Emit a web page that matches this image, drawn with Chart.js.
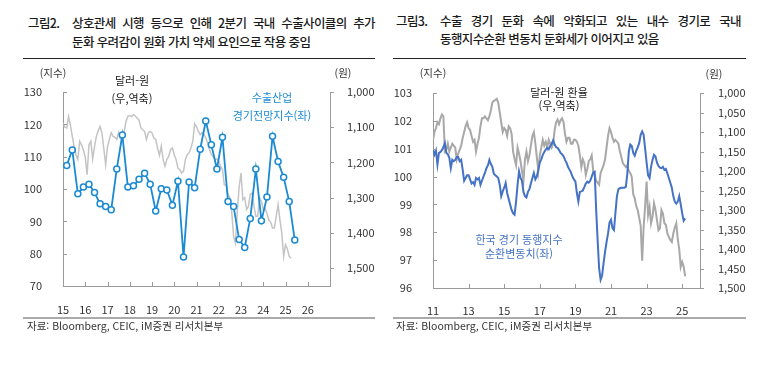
<!DOCTYPE html>
<html lang="ko">
<head>
<meta charset="utf-8">
<script src="https://cdn.jsdelivr.net/npm/chart.js@4.4.1/dist/chart.umd.min.js"></script>
<style>
  body { margin:0; width:782px; height:367px; background:#fff; position:relative; overflow:hidden;
         font-family:"Noto Sans CJK KR", sans-serif; color:#222; }
  .abs { position:absolute; white-space:nowrap; line-height:1; }
  canvas { position:absolute; top:0; }
  .title { font-size:12.5px; font-weight:500; letter-spacing:-0.6px; color:#1a1a1a; }
  .just { text-align:justify; text-align-last:justify; }
  .rule { position:absolute; height:0; border-top:1px solid #222; }
  .sep { position:absolute; height:0; border-top:2px solid #aaa; }
  .note { font-size:11px; transform:translate(-50%,-50%); }
  .unit { font-size:10.5px; color:#333; transform:translate(-50%,-50%); }
  .src { font-size:10.5px; color:#333; }
</style>
</head>
<body>

<!-- titles -->
<div class="abs title" style="left:28px;top:17px;">그림2.</div>
<div class="abs title just" style="left:72px;top:17px;width:303px;">상호관세 시행 등으로 인해 2분기 국내 수출사이클의 추가</div>
<div class="abs title" style="left:72px;top:36px;">둔화 우려감이 원화 가치 약세 요인으로 작용 중임</div>
<div class="rule" style="left:23px;top:58px;width:352px;"></div>

<div class="abs title" style="left:396px;top:15px;">그림3.</div>
<div class="abs title just" style="left:440px;top:15px;width:301px;">수출 경기 둔화 속에 악화되고 있는 내수 경기로 국내</div>
<div class="abs title" style="left:440px;top:33px;">동행지수순환 변동치 둔화세가 이어지고 있음</div>
<div class="rule" style="left:393px;top:58px;width:353px;"></div>

<canvas id="chart1" width="391" height="320" style="left:0;"></canvas>
<canvas id="chart2" width="391" height="320" style="left:391px;"></canvas>

<!-- chart 1 notes -->
<div class="abs unit" style="left:53px;top:73px;">(지수)</div>
<div class="abs unit" style="left:343px;top:73px;">(원)</div>
<div class="abs note" style="left:132px;top:80px;">달러-원</div>
<div class="abs note" style="left:132px;top:98px;">(우,역축)</div>
<div class="abs note" style="left:272px;top:97px;color:#1a8ad2;">수출산업</div>
<div class="abs note" style="left:272px;top:115px;color:#1a8ad2;">경기전망지수(좌)</div>

<!-- chart 2 notes -->
<div class="abs unit" style="left:433px;top:73px;">(지수)</div>
<div class="abs unit" style="left:714px;top:74px;">(원)</div>
<div class="abs note" style="left:559px;top:92px;">달러-원 환율</div>
<div class="abs note" style="left:559px;top:105px;">(우,역축)</div>
<div class="abs note" style="left:519px;top:239px;color:#4472c4;">한국 경기 동행지수</div>
<div class="abs note" style="left:519px;top:253px;color:#4472c4;">순환변동치(좌)</div>

<!-- sources -->
<div class="sep" style="left:23px;top:317px;width:352px;"></div>
<div class="abs src" style="left:27px;top:321px;">자료: Bloomberg, CEIC, iM증권 리서치본부</div>
<div class="sep" style="left:393px;top:317px;width:353px;"></div>
<div class="abs src" style="left:396px;top:321px;">자료: Bloomberg, CEIC, iM증권 리서치본부</div>

<script>
// ---- chart 1: export industry outlook (quarterly, from 2015 Mar) vs USD/KRW (monthly, from 2015 Jan)
const xLabels1 = ['15','16','17','18','19','20','21','22','23','24','25','26'];
const yTicks1 = [70, 80, 90, 100, 110, 120, 130];
const fxTicks1 = [1000, 1100, 1200, 1300, 1400, 1500];

const exportOutlook = [107.3, 112.1, 98.5, 100.6, 101.5, 98.9, 95.4, 94.6,
  93.6, 106.2, 116.7, 100.6, 101.0, 103.0, 104.9, 101.5,
  93.2, 100.1, 99.7, 95.0, 102.4, 79.0, 102.2, 100.4,
  112.3, 121.0, 113.7, 106.2, 116.0, 96.1, 94.6, 84.4,
  81.9, 90.9, 106.2, 90.2, 97.5, 116.3, 108.5, 103.6,
  96.1, 84.2];

const usdKrw1 = [
  1088, 1100, 1102, 1070, 1095, 1125, 1155, 1178, 1192, 1140, 1150, 1165,
  1185, 1235, 1150, 1140, 1190, 1155, 1126, 1110, 1098, 1116, 1160, 1206,
  1155, 1135, 1116, 1126, 1128, 1135, 1115, 1131, 1126, 1112, 1083, 1069,
  1067, 1070, 1064, 1068, 1074, 1080, 1102, 1107, 1112, 1135, 1116, 1112,
  1116, 1131, 1135, 1159, 1180, 1154, 1192, 1211, 1192, 1183, 1164, 1159,
  1178, 1192, 1216, 1221, 1230, 1225, 1192, 1178, 1173, 1159, 1140, 1090,
  1098, 1112, 1121, 1115, 1120, 1130, 1145, 1164, 1178, 1183, 1192, 1190,
  1197, 1211, 1220, 1263, 1265, 1290, 1300, 1340, 1410, 1429, 1339, 1270,
  1230, 1306, 1300, 1334, 1325, 1290, 1287, 1325, 1353, 1353, 1300, 1310,
  1334, 1330, 1345, 1363, 1370, 1386, 1386, 1353, 1320, 1363, 1400, 1467,
  1434, 1445, 1467, 1472];

// ---- chart 2: coincident index cycle (monthly, from 2011 Jan) vs USD/KRW
const xLabels2 = ['11','13','15','17','19','21','23','25'];
const yTicks2 = [96, 97, 98, 99, 100, 101, 102, 103];
const fxTicks2 = [1000, 1050, 1100, 1150, 1200, 1250, 1300, 1350, 1400, 1450, 1500];

const coincidentCycle = [
  100.97, 100.79, 100.94, 100.43, 100.85, 100.88, 100.95, 101.05, 101.2, 100.85, 100.8, 100.68,
  100.3, 100.6, 100.55, 100.6, 100.7, 100.7, 100.55, 100.6, 100.25, 99.85, 99.95, 100.05,
  100.05, 99.9, 99.75, 99.8, 99.7, 99.95, 99.9, 99.95, 99.7, 99.85, 100.0, 100.13,
  100.3, 100.4, 100.6, 100.45, 100.35, 100.1, 100.05, 100.0, 99.95, 99.7, 99.3, 99.47,
  99.6, 99.77, 99.41, 99.2, 99.0, 98.8, 98.68, 98.63, 99.1, 99.7, 100.19, 99.95,
  99.85, 99.45, 99.3, 99.25, 99.45, 99.55, 99.75, 99.95, 100.13, 99.9, 100.0, 100.25,
  100.5, 100.62, 100.78, 100.88, 100.97, 101.03, 100.98, 101.09, 101.18, 101.3, 101.15, 101.05,
  101.03, 100.95, 100.85, 100.8, 100.73, 100.6, 100.5, 100.35, 100.25, 100.15, 100.0, 99.9,
  99.83, 99.41, 99.11, 99.45, 99.47, 99.5, 99.62, 99.75, 99.82, 99.78, 99.85, 100.0,
  100.15, 100.18, 98.8, 97.7, 96.7, 96.3, 96.45, 96.9, 97.3, 97.65, 97.95, 98.35,
  98.45, 98.15, 98.08, 98.7, 99.3, 99.55, 99.58, 99.6, 99.6, 99.6, 99.63, 100.1,
  100.9, 101.15, 101.1, 100.85, 100.75, 100.92, 101.05, 101.2, 101.5, 101.62, 101.5, 101.0,
  100.5, 100.05, 99.95, 100.35, 100.6, 100.78, 100.72, 100.5, 100.38, 100.32, 100.3, 100.35,
  100.24, 100.27, 100.12, 99.95, 99.78, 99.6, 99.3, 99.1, 99.03, 99.1, 99.3, 99.0,
  98.68, 98.42, 98.5];

const usdKrw2 = [
  1120, 1100, 1090, 1075, 1080, 1065, 1055, 1060, 1150, 1145, 1130, 1150,
  1140, 1130, 1135, 1140, 1170, 1155, 1145, 1135, 1115, 1100, 1085, 1075,
  1090, 1095, 1110, 1125, 1120, 1150, 1130, 1115, 1085, 1065, 1065, 1060,
  1065, 1070, 1060, 1045, 1025, 1020, 1018, 1015, 1025, 1050, 1075, 1100,
  1090, 1095, 1110, 1085, 1090, 1105, 1150, 1170, 1185, 1140, 1155, 1175,
  1200, 1225, 1170, 1150, 1175, 1160, 1135, 1110, 1100, 1130, 1165, 1200,
  1160, 1140, 1120, 1135, 1125, 1140, 1120, 1130, 1140, 1130, 1095, 1075,
  1068, 1080, 1070, 1065, 1075, 1105, 1125, 1115, 1115, 1130, 1130, 1120,
  1120, 1125, 1135, 1160, 1190, 1170, 1180, 1210, 1195, 1175, 1170, 1160,
  1200, 1210, 1225, 1230, 1235, 1205, 1195, 1185, 1170, 1140, 1110, 1090,
  1100, 1115, 1125, 1120, 1125, 1130, 1150, 1165, 1180, 1185, 1190, 1185,
  1200, 1205, 1215, 1260, 1270, 1290, 1300, 1320, 1340, 1430, 1345, 1290,
  1227, 1313, 1292, 1334, 1317, 1283, 1300, 1326, 1352, 1347, 1300, 1309,
  1334, 1338, 1360, 1369, 1377, 1382, 1360, 1345, 1334, 1375, 1400, 1446,
  1433, 1445, 1470];

const blue1 = '#1a8ad2';
const blue2 = '#4472c4';
const axisColor = '#9a9a9a';
const tickFont = { family: '"Noto Sans CJK KR", sans-serif', size: 11 };
const tickColor = '#333';

// month index -> decimal year on a linear axis
function monthPoints(startYear, startMonth, stepMonths, values) {
  return values.map((v, i) => ({ x: startYear + (startMonth - 1 + i * stepMonths) / 12, y: v }));
}

// short tick marks: both y axes point right, x axis points up
const tickMarks = {
  id: 'tickMarks',
  afterDraw(chart) {
    const ctx = chart.ctx;
    ctx.save();
    ctx.strokeStyle = axisColor;
    ctx.lineWidth = 1;
    ['y', 'y1'].forEach(id => {
      const s = chart.scales[id];
      const x0 = id === 'y' ? s.right : s.left;
      s.ticks.forEach(t => {
        const y = Math.round(s.getPixelForValue(t.value)) + 0.5;
        ctx.beginPath(); ctx.moveTo(x0, y); ctx.lineTo(x0 + 4, y); ctx.stroke();
      });
    });
    const sx = chart.scales.x;
    sx.ticks.forEach(t => {
      const x = Math.round(sx.getPixelForValue(t.value)) + 0.5;
      ctx.beginPath(); ctx.moveTo(x, sx.top); ctx.lineTo(x, sx.top - 4); ctx.stroke();
    });
    ctx.restore();
  }
};

function axis(extra) {
  return Object.assign({
    grid: { display: false },
    border: { color: axisColor, width: 1 },
  }, extra);
}

new Chart(document.getElementById('chart1'), {
  type: 'line',
  data: {
    datasets: [{
      label: '수출산업 경기전망지수(좌)',
      data: monthPoints(2015, 3, 3, exportOutlook),
      yAxisID: 'y',
      borderColor: blue1,
      borderWidth: 1.8,
      pointRadius: 3,
      pointBackgroundColor: '#fff',
      pointBorderColor: blue1,
      pointBorderWidth: 1.5,
      tension: 0
    },
    {
      label: '달러-원(우,역축)',
      data: monthPoints(2015, 1, 1, usdKrw1),
      yAxisID: 'y1',
      borderColor: '#c4c4c4',
      borderWidth: 1.5,
      pointRadius: 0,
      tension: 0
    }]
  },
  options: {
    responsive: false,
    animation: false,
    devicePixelRatio: 1,
    layout: { padding: { top: 92, left: 0, right: 0, bottom: 0 } },
    plugins: { legend: { display: false }, tooltip: { enabled: false } },
    scales: {
      x: axis({
        type: 'linear', min: 2015, max: 2027,
        afterBuildTicks: s => { s.ticks = xLabels1.map(l => ({ value: 2000 + Number(l) })); },
        afterFit: s => { s.height = 34; },
        ticks: { autoSkip: false, maxRotation: 0, padding: 9, font: tickFont, color: tickColor,
                 callback: v => String(v - 2000) }
      }),
      y: axis({
        position: 'left', min: 70, max: 130,
        afterBuildTicks: s => { s.ticks = yTicks1.map(v => ({ value: v })); },
        afterFit: s => { s.width = 63; },
        ticks: { padding: 13, font: tickFont, color: tickColor }
      }),
      y1: axis({
        position: 'right', reverse: true, min: 1000, max: 1551,
        afterBuildTicks: s => { s.ticks = fxTicks1.map(v => ({ value: v })); },
        afterFit: s => { s.width = 61; },
        ticks: { padding: 9, font: tickFont, color: tickColor, callback: v => v.toLocaleString('en-US') }
      })
    }
  },
  plugins: [tickMarks]
});

new Chart(document.getElementById('chart2'), {
  type: 'line',
  data: {
    datasets: [{
      label: '한국 경기 동행지수 순환변동치(좌)',
      data: monthPoints(2011, 1, 1, coincidentCycle),
      yAxisID: 'y',
      borderColor: blue2,
      borderWidth: 2,
      pointRadius: 0,
      tension: 0
    },
    {
      label: '달러-원 환율(우,역축)',
      data: monthPoints(2011, 1, 1, usdKrw2),
      yAxisID: 'y1',
      borderColor: '#a8a8a8',
      borderWidth: 2,
      pointRadius: 0,
      tension: 0
    }]
  },
  options: {
    responsive: false,
    animation: false,
    devicePixelRatio: 1,
    layout: { padding: { top: 93, left: 0, right: 0, bottom: 0 } },
    plugins: { legend: { display: false }, tooltip: { enabled: false } },
    scales: {
      x: axis({
        type: 'linear', min: 2011, max: 2026,
        afterBuildTicks: s => { s.ticks = xLabels2.map(l => ({ value: 2000 + Number(l) })); },
        afterFit: s => { s.height = 32; },
        ticks: { autoSkip: false, maxRotation: 0, padding: 8, font: tickFont, color: tickColor,
                 callback: v => String(v - 2000) }
      }),
      y: axis({
        position: 'left', min: 96, max: 103,
        afterBuildTicks: s => { s.ticks = yTicks2.map(v => ({ value: v })); },
        afterFit: s => { s.width = 42; },
        ticks: { padding: 13, font: tickFont, color: tickColor }
      }),
      y1: axis({
        position: 'right', reverse: true, min: 1000, max: 1500,
        afterBuildTicks: s => { s.ticks = fxTicks2.map(v => ({ value: v })); },
        afterFit: s => { s.width = 82; },
        ticks: { padding: 10, font: tickFont, color: tickColor, callback: v => v.toLocaleString('en-US') }
      })
    }
  },
  plugins: [tickMarks]
});
</script>
</body>
</html>
